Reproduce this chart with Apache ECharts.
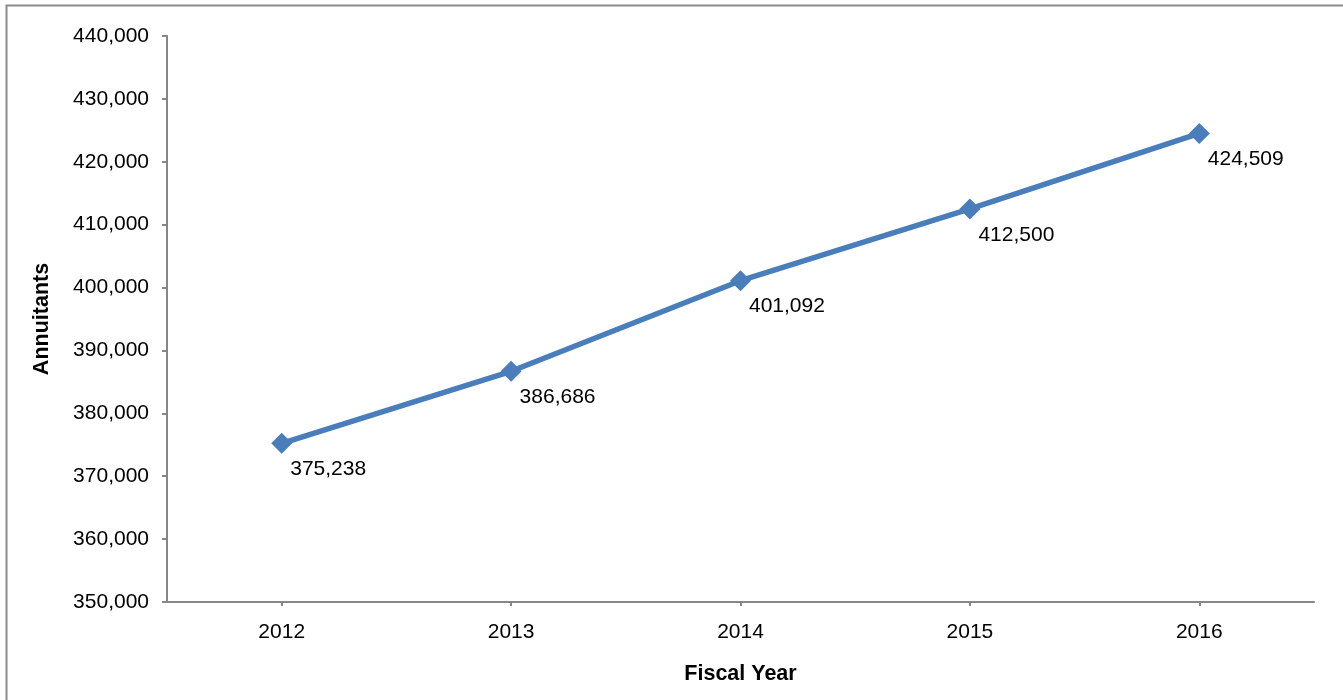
<!DOCTYPE html>
<html>
<head>
<meta charset="utf-8">
<script src="https://cdn.jsdelivr.net/npm/echarts@6/dist/echarts.min.js"></script>
<style>
html,body{margin:0;padding:0;background:#fff;}
#c{width:1343px;height:700px;}
</style>
</head>
<body>
<div id="c"></div>
<script>
const categories = ['2012', '2013', '2014', '2015', '2016'];
const annuitants = [375238, 386686, 401092, 412500, 424509];
const yMin = 350000, yMax = 440000, yStep = 10000;
const xTitle = 'Fiscal Year';
const yTitle = 'Annuitants';

const chart = echarts.init(document.getElementById('c'), null, {renderer: 'canvas'});
const font = 'Liberation Sans, Arial, sans-serif';
const axisGray = '#868686';
chart.setOption({
  animation: false,
  backgroundColor: '#fff',
  graphic: [{
    type: 'rect',
    shape: {x: 6.5, y: 5.5, width: 1400, height: 800},
    style: {fill: 'none', stroke: '#8c8c8c', lineWidth: 2},
    silent: true, z: -1
  }],
  grid: {left: 167, right: 29, top: 36, bottom: 98},
  xAxis: {
    type: 'category',
    data: categories,
    boundaryGap: true,
    name: xTitle,
    nameLocation: 'middle',
    nameGap: 61,
    nameTextStyle: {fontFamily: font, fontSize: 21.5, fontWeight: 'bold', color: '#000'},
    axisLine: {lineStyle: {color: axisGray, width: 2}},
    axisTick: {show: true, alignWithLabel: true, length: 4, lineStyle: {color: axisGray, width: 2}},
    axisLabel: {fontFamily: font, fontSize: 21, color: '#000', margin: 20},
    splitLine: {show: false}
  },
  yAxis: {
    type: 'value',
    min: yMin, max: yMax, interval: yStep,
    name: yTitle,
    nameLocation: 'middle',
    nameGap: 114,
    nameTextStyle: {fontFamily: font, fontSize: 21.5, fontWeight: 'bold', color: '#000'},
    axisLine: {show: true, lineStyle: {color: axisGray, width: 2}},
    axisTick: {show: true, length: 5, lineStyle: {color: axisGray, width: 2}},
    axisLabel: {
      fontFamily: font, fontSize: 21, color: '#000', margin: 18,
      formatter: v => v.toLocaleString('en-US')
    },
    splitLine: {show: false}
  },
  series: [{
    type: 'line',
    data: annuitants,
    symbol: 'diamond',
    symbolSize: 21,
    itemStyle: {color: '#4A7EBB'},
    lineStyle: {color: '#4A7EBB', width: 5.5},
    label: {
      show: true,
      position: 'right',
      offset: [-7, 26],
      fontFamily: font, fontSize: 21, color: '#000',
      formatter: p => p.value.toLocaleString('en-US')
    }
  }]
});
</script>
</body>
</html>
